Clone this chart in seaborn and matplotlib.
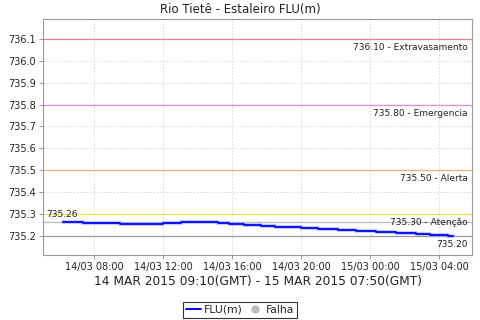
import matplotlib
matplotlib.use("Agg")
import matplotlib.pyplot as plt
import matplotlib.dates as mdates
from matplotlib.lines import Line2D
import pandas as pd
import seaborn as sns

# ---- data (local time, step changes) ----
times = ["2015-03-14 06:10", "2015-03-14 07:20", "2015-03-14 09:30", "2015-03-14 12:00",
         "2015-03-14 13:00", "2015-03-14 15:10", "2015-03-14 15:50", "2015-03-14 16:40",
         "2015-03-14 17:40", "2015-03-14 18:30", "2015-03-14 20:00", "2015-03-14 21:00",
         "2015-03-14 22:10", "2015-03-14 23:10", "2015-03-15 00:20", "2015-03-15 01:30",
         "2015-03-15 02:40", "2015-03-15 03:30", "2015-03-15 04:30", "2015-03-15 04:50"]
flu = [735.264, 735.259, 735.255, 735.259, 735.266, 735.259, 735.255, 735.250,
       735.247, 735.242, 735.238, 735.233, 735.229, 735.224, 735.220, 735.215,
       735.210, 735.206, 735.201, 735.201]

limit_values = [736.10, 735.80, 735.50, 735.30]
limit_names = ["Extravasamento", "Emergencia", "Alerta", "Atenção"]
limit_colors = ["#f08080", "#e888e8", "#ffb060", "#f0e050"]

first_value = 735.263
last_value = 735.20

yticks = [735.2, 735.3, 735.4, 735.5, 735.6, 735.7, 735.8, 735.9, 736.0, 736.1]
xtick_times = ["2015-03-14 08:00", "2015-03-14 12:00", "2015-03-14 16:00",
               "2015-03-14 20:00", "2015-03-15 00:00", "2015-03-15 04:00"]

title = "Rio Tietê - Estaleiro FLU(m)"
xlabel = "14 MAR 2015 09:10(GMT) - 15 MAR 2015 07:50(GMT)"

df = pd.DataFrame({"time": pd.to_datetime(times), "FLU(m)": flu})

sns.set_style("white")
plt.rcParams["font.family"] = ["DejaVu Sans"]

fig = plt.figure(figsize=(4.8, 3.2), dpi=100)
ax = fig.add_axes([43 / 480, 65 / 320, 429 / 480, 236 / 320])

# gridlines
ax.grid(True, color="#d4d4d4", linestyle=(0, (2, 2)), linewidth=0.6)
ax.set_axisbelow(True)

# limit lines
for v, name, c in zip(limit_values, limit_names, limit_colors):
    ax.axhline(v, color=c, linewidth=0.9, zorder=2)
    ax.annotate(f"{v:.2f} - {name}", xy=(1, v), xycoords=("axes fraction", "data"),
                xytext=(-3, -3), textcoords="offset points", ha="right", va="top",
                fontsize=6.5, color="#222222")

ax.axhline(first_value, color="#bbbbbb", linewidth=0.9, zorder=2)
ax.annotate(f"{first_value:.2f}", xy=(0, first_value), xycoords=("axes fraction", "data"),
            xytext=(2, 2), textcoords="offset points", ha="left", va="bottom",
            fontsize=6.5, color="#222222")
ax.axhline(last_value, color="#999999", linewidth=0.9, zorder=2)
ax.annotate(f"{last_value:.2f}", xy=(1, last_value), xycoords=("axes fraction", "data"),
            xytext=(-3, -3), textcoords="offset points", ha="right", va="top",
            fontsize=6.5, color="#222222")

# data line (halo + core)
sns.lineplot(data=df, x="time", y="FLU(m)", ax=ax, drawstyle="steps-post",
             color="#9aa6ff", linewidth=3.0, alpha=0.55, zorder=3, legend=False)
sns.lineplot(data=df, x="time", y="FLU(m)", ax=ax, drawstyle="steps-post",
             color="#0000ff", linewidth=1.3, zorder=4, legend=False)

ax.set_ylim(735.113, 736.191)
ax.set_xlim(pd.Timestamp("2015-03-14 05:01"), pd.Timestamp("2015-03-15 05:55"))
ax.set_yticks(yticks)
ax.set_yticklabels([f"{t:.1f}" for t in yticks])
ax.set_xticks(pd.to_datetime(xtick_times))
ax.xaxis.set_major_formatter(mdates.DateFormatter("%d/%m %H:%M"))

ax.tick_params(axis="both", direction="out", length=3, width=0.6, color="#888888",
               labelsize=7, labelcolor="#222222", pad=2)
ax.tick_params(axis="both", which="both", bottom=True, left=True)
for s in ax.spines.values():
    s.set_color("#999999")
    s.set_linewidth(0.8)

ax.set_ylabel("")
ax.set_xlabel(xlabel, fontsize=8.8, color="#222222", labelpad=2.5)
fig.text(0.5, 1 - 9 / 320, title, ha="center", va="center", fontsize=8.5, color="#222222")

handles = [Line2D([0], [0], color="#0000ff", linewidth=1.4),
           Line2D([0], [0], marker="o", linestyle="none", color="#bbbbbb", markersize=5)]
leg = fig.legend(handles, ["FLU(m)", "Falha"], loc="center", bbox_to_anchor=(0.5, 1 - 310 / 320),
                 ncol=2, fontsize=7.8, frameon=True, fancybox=False, handlelength=1.4,
                 handletextpad=0.3, columnspacing=0.4, borderpad=0.25, borderaxespad=0)
leg.get_frame().set_edgecolor("black")
leg.get_frame().set_linewidth(0.8)

fig.savefig("out.png", dpi=100)
